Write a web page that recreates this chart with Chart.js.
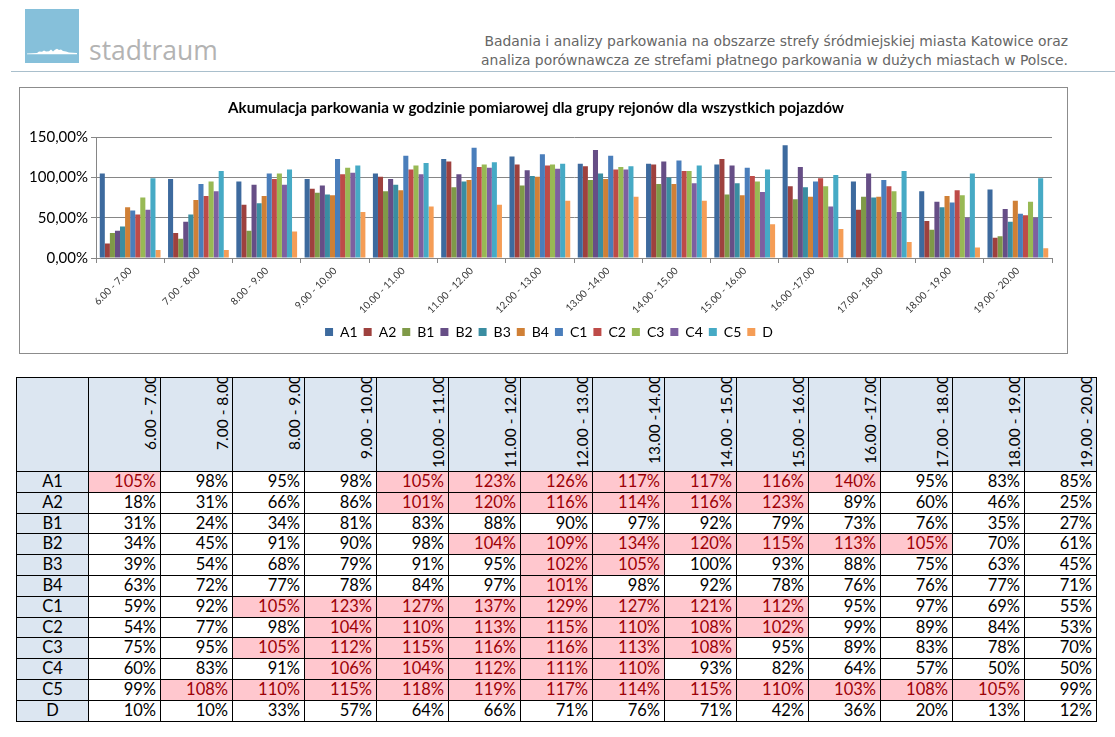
<!DOCTYPE html>
<html><head><meta charset="utf-8">
<script src="https://cdn.jsdelivr.net/npm/chart.js@4.4.0/dist/chart.umd.min.js"></script>
<style>
html,body{margin:0;padding:0;background:#fff;}
body{width:1115px;height:737px;position:relative;overflow:hidden;font-family:Lato,"Open Sans",sans-serif;}
#logo{position:absolute;left:25px;top:9px;width:54px;height:54px;background:#86c0da;}
#brand{position:absolute;left:89px;top:33px;font-family:"Open Sans",sans-serif;font-size:26.5px;color:#b3b3b3;line-height:34px;}
#hline{position:absolute;left:11px;top:71px;width:1104px;height:1px;background:#a9bfcc;}
#htext{position:absolute;right:47px;top:32px;text-align:right;font-family:"DejaVu Sans",sans-serif;font-size:13.9px;line-height:19px;color:#666;}
#box{position:absolute;left:19px;top:87px;width:1047px;height:265px;border:1px solid #8c8c8c;}
#c{position:absolute;left:0;top:0;}
#tbl{position:absolute;left:0;top:0;font-family:Lato,sans-serif;font-size:16.5px;}
.cell{position:absolute;box-sizing:border-box;border:1px solid #000;overflow:hidden;background:#fff;}
.hd{background:#dce6f1;}
.hd .t{position:absolute;top:-3px;left:51px;writing-mode:vertical-rl;transform:rotate(180deg);white-space:nowrap;line-height:20px;font-size:15.5px;}
.num{text-align:right;padding-right:4px;}
.lab{background:#dce6f1;text-align:center;}
.hi{background:#ffc7ce;color:#9c0006;}
</style></head><body>
<div id="logo"><svg width="54" height="54" viewBox="0 0 54 54"><path d="M2 44.5 L12 44 L14 42.5 L17 42.8 L19 41.5 L21 42.6 L24 42.2 L26 40.5 L28 42.5 L30 40.8 L32 39.8 L34 41 L36 40.5 L38 42 L41 42.6 L44 43.6 L52 44 L52 45.3 L2 45.3 Z" fill="#fff"/></svg></div>
<div id="brand">stadtraum</div>
<div id="htext">Badania i analizy parkowania na obszarze strefy śródmiejskiej miasta Katowice oraz<br>analiza porównawcza ze strefami płatnego parkowania w dużych miastach w Polsce.</div>
<div id="hline"></div>
<div id="box"><canvas id="c" width="1047" height="265"></canvas></div>
<div id="tbl"></div>
<script>
const categories = ["6.00 - 7.00","7.00 - 8.00","8.00 - 9.00","9.00 - 10.00","10.00 - 11.00","11.00 - 12.00","12.00 - 13.00","13.00 -14.00","14.00 - 15.00","15.00 - 16.00","16.00 -17.00","17.00 - 18.00","18.00 - 19.00","19.00 - 20.00"];
const seriesNames = ["A1","A2","B1","B2","B3","B4","C1","C2","C3","C4","C5","D"];
const A1 = [105,98,95,98,105,123,126,117,117,116,140,95,83,85];
const A2 = [18,31,66,86,101,120,116,114,116,123,89,60,46,25];
const B1 = [31,24,34,81,83,88,90,97,92,79,73,76,35,27];
const B2 = [34,45,91,90,98,104,109,134,120,115,113,105,70,61];
const B3 = [39,54,68,79,91,95,102,105,100,93,88,75,63,45];
const B4 = [63,72,77,78,84,97,101,98,92,78,76,76,77,71];
const C1 = [59,92,105,123,127,137,129,127,121,112,95,97,69,55];
const C2 = [54,77,98,104,110,113,115,110,108,102,99,89,84,53];
const C3 = [75,95,105,112,115,116,116,113,108,95,89,83,78,70];
const C4 = [60,83,91,106,104,112,111,110,93,82,64,57,50,50];
const C5 = [99,108,110,115,118,119,117,114,115,110,103,108,105,99];
const D  = [10,10,33,57,64,66,71,76,71,42,36,20,13,12];
const yTicks = [0,50,100,150];
const chartTitle = "Akumulacja parkowania w godzinie pomiarowej dla grupy rejonów dla wszystkich pojazdów";

const seriesValues = [A1,A2,B1,B2,B3,B4,C1,C2,C3,C4,C5,D];
const colors = ["#3d6a9e","#9e413e","#7f9a48","#664e86","#3a8da1","#d08036","#4a7ebb","#be4b48","#98b954","#7d60a0","#46aac5","#f59d56"];

const legendShift = {
  id:'legendShift',
  afterLayout(chart){ if(chart.legend){ chart.legend.left += 13; chart.legend.right += 13; } }
};

new Chart(document.getElementById('c'), {
  type: 'bar',
  data: {
    labels: categories,
    datasets: seriesNames.map((n,i)=>({label:n,data:seriesValues[i],backgroundColor:colors[i],borderWidth:0,categoryPercentage:0.89,barPercentage:1.0}))
  },
  plugins:[legendShift],
  options: {
    responsive:false, animation:false, devicePixelRatio:1,
    layout:{padding:{left:0,right:15,top:0,bottom:4}},
    plugins:{
      title:{display:true,text:chartTitle,color:'#000',font:{family:'Lato',weight:'bold',size:15.2},padding:{top:11,bottom:20}},
      legend:{position:'bottom',labels:{boxWidth:8,boxHeight:8,color:'#000',font:{family:'Lato',size:14},padding:6}},
      tooltip:{enabled:false}
    },
    scales:{
      y:{min:0,max:150,afterFit:s=>{s.width=76;},
        afterBuildTicks:s=>{s.ticks=yTicks.map(v=>({value:v}));},
        ticks:{color:'#000',font:{family:'Lato',size:15},padding:3,callback:v=>v.toFixed(2).replace('.',',')+'%'},
        grid:{color:'#868686',tickLength:5},border:{color:'#868686'}},
      x:{afterFit:s=>{s.height=61;},
        ticks:{color:'#333',font:{family:'Lato',size:10},maxRotation:45,minRotation:45,autoSkip:false,padding:2},
        grid:{drawOnChartArea:false,color:'#868686',tickLength:5,offset:true},border:{color:'#868686'}}
    }
  }
});

// table built from the same arrays
const T = {left:16, top:377, colW:72, headH:94, rowH:20.8};
const tbl = document.getElementById('tbl');
let h = '';
function cell(x,y,w,hh,cls,txt,lh){
  return '<div class="cell '+cls+'" style="left:'+x+'px;top:'+y+'px;width:'+(w+1)+'px;height:'+(hh+1)+'px;line-height:'+(lh||hh-1)+'px">'+txt+'</div>';
}
h += cell(T.left, T.top, T.colW, T.headH, 'hd', '');
categories.forEach((c,j)=>{
  h += cell(T.left+(j+1)*T.colW, T.top, T.colW, T.headH, 'hd', '<div class="t">'+c+'</div>');
});
seriesNames.forEach((n,i)=>{
  const y = T.top + T.headH + i*T.rowH;
  h += cell(T.left, y, T.colW, T.rowH, 'lab', n, 19);
  seriesValues[i].forEach((v,j)=>{
    h += cell(T.left+(j+1)*T.colW, y, T.colW, T.rowH, 'num'+(v>100?' hi':''), v+'%', 19);
  });
});
tbl.innerHTML = h;
</script>
</body></html>
